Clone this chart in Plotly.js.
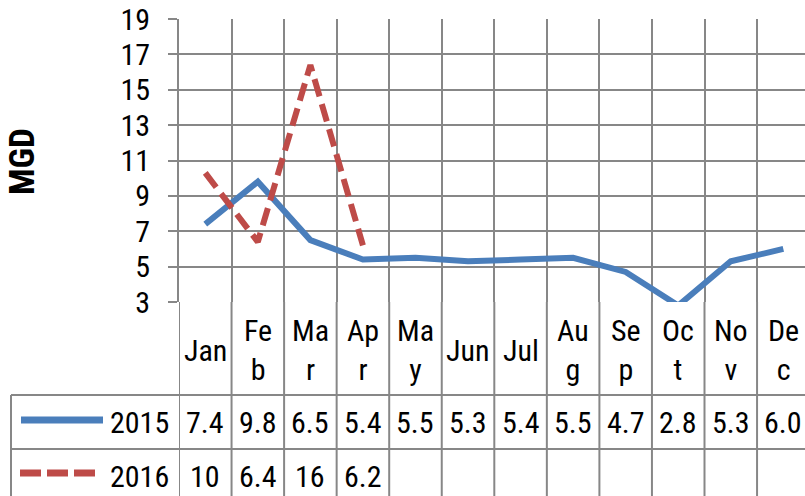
<!DOCTYPE html>
<html>
<head>
<meta charset="utf-8">
<script src="https://cdn.plot.ly/plotly-3.0.1.min.js"></script>
<style>html,body{margin:0;padding:0;background:#fff;overflow:hidden}</style>
</head>
<body>
<div id="chart" style="width:805px;height:496px"></div>
<script>
// ---- data ----
const months = ["Jan","Feb","Mar","Apr","May","Jun","Jul","Aug","Sep","Oct","Nov","Dec"];
const monthLabels = ["Jan","Fe<br>b","Ma<br>r","Ap<br>r","Ma<br>y","Jun","Jul","Au<br>g","Se<br>p","Oc<br>t","No<br>v","De<br>c"];
const series2015 = [7.4, 9.8, 6.5, 5.4, 5.5, 5.3, 5.4, 5.5, 4.7, 2.8, 5.3, 6.0];
const series2016 = [10.3, 6.4, 16.4, 6.2];
const seriesNames = ["2015", "2016"];
const yTicks = [3, 5, 7, 9, 11, 13, 15, 17, 19];

// ---- styling ----
const FONT = "'Liberation Sans Narrow', 'Arial Narrow', 'Roboto Condensed', Roboto, sans-serif";
const FS = 30;
const GRID = "#878787";
const BLUE = "#4A7EBB";
const RED = "#BE4B48";
const W = 805, H = 496, ML = 179, MT = 19, MB = 194;
const PH = H - MT - MB;
const py = (pix) => (MT + PH - pix) / PH; // pixel y -> paper y
const px = (pix) => (pix - ML) / (W - ML); // pixel x -> paper x

const xs = months.map((m, i) => i);

const traces = [
  {x: xs, y: series2015, type: "scatter", mode: "lines", name: seriesNames[0],
   line: {color: BLUE, width: 6}, showlegend: false, cliponaxis: false},
  {x: xs.slice(0, series2016.length), y: series2016, type: "scatter", mode: "lines", name: seriesNames[1],
   line: {color: RED, width: 6, dash: "18px,8px"}, showlegend: false, cliponaxis: false}
];

const annotations = [];
const shapes = [];
const yMonth = py(350), y15 = py(422), y16 = py(476);
const fmt = v => (v >= 10 ? v.toFixed(0) : v.toFixed(1));
const txtFont = {family: FONT, size: FS, color: "#000"};

months.forEach((m, i) => {
  annotations.push({x: i, xref: "x", y: yMonth, yref: "paper", text: monthLabels[i], showarrow: false,
    xanchor: "center", yanchor: "middle", font: txtFont});
  if (series2015[i] !== undefined)
    annotations.push({x: i, xref: "x", y: y15, yref: "paper", text: fmt(series2015[i]), showarrow: false,
      xanchor: "center", yanchor: "middle", font: txtFont});
  if (series2016[i] !== undefined)
    annotations.push({x: i, xref: "x", y: y16, yref: "paper", text: fmt(series2016[i]), showarrow: false,
      xanchor: "center", yanchor: "middle", font: txtFont});
});
// series names in table
annotations.push({x: px(171), xref: "paper", y: y15, yref: "paper", text: seriesNames[0], showarrow: false,
  xanchor: "right", yanchor: "middle", font: txtFont});
annotations.push({x: px(171), xref: "paper", y: y16, yref: "paper", text: seriesNames[1], showarrow: false,
  xanchor: "right", yanchor: "middle", font: txtFont});
// y-axis title
annotations.push({x: px(22), xref: "paper", y: py(162), yref: "paper", text: "<b>MGD</b>", textangle: -90,
  showarrow: false, xanchor: "center", yanchor: "middle", font: {family: FONT, size: 35, color: "#000"}});

// legend keys
shapes.push({type: "line", xref: "paper", yref: "paper", x0: px(21), x1: px(103), y0: py(420), y1: py(420),
  line: {color: BLUE, width: 7}});
shapes.push({type: "line", xref: "paper", yref: "paper", x0: px(20), x1: px(95), y0: py(473), y1: py(473),
  line: {color: RED, width: 7, dash: "21px,6px"}});

// table grid: vertical column borders
for (let i = 0; i <= months.length; i++) {
  shapes.push({type: "line", xref: "x", yref: "paper", x0: i - 0.5, x1: i - 0.5, y0: 0, y1: py(H + 5),
    line: {color: GRID, width: 2}});
}
// horizontal row borders
[395, 449].forEach(p => shapes.push({type: "line", xref: "paper", yref: "paper", x0: px(11), x1: 1.2,
  y0: py(p), y1: py(p), line: {color: GRID, width: 2}}));
shapes.push({type: "line", xref: "paper", yref: "paper", x0: px(11), x1: px(11), y0: py(395), y1: py(H + 5),
  line: {color: GRID, width: 2}});

const layout = {
  width: W, height: H,
  margin: {l: ML, r: 0, t: MT, b: MB, pad: 0},
  paper_bgcolor: "#fff", plot_bgcolor: "#fff",
  showlegend: false,
  xaxis: {range: [-0.5, -0.5 + (W - ML) / 52.55], tickvals: months.map((m, i) => i - 0.5), ticktext: months.map(() => ""),
    showgrid: true, gridcolor: GRID, gridwidth: 2, zeroline: false, showline: false, ticks: "", fixedrange: true},
  yaxis: {range: [3, 19], tickvals: yTicks, showgrid: true, gridcolor: GRID, gridwidth: 2, zeroline: false,
    showline: true, linecolor: GRID, linewidth: 2, ticks: "outside", ticklen: 9, tickwidth: 2, tickcolor: GRID,
    ticklabelstandoff: 12, tickfont: txtFont},
  font: txtFont,
  annotations: annotations,
  shapes: shapes
};

Plotly.newPlot("chart", traces, layout, {displayModeBar: false, staticPlot: true});
</script>
</body>
</html>
